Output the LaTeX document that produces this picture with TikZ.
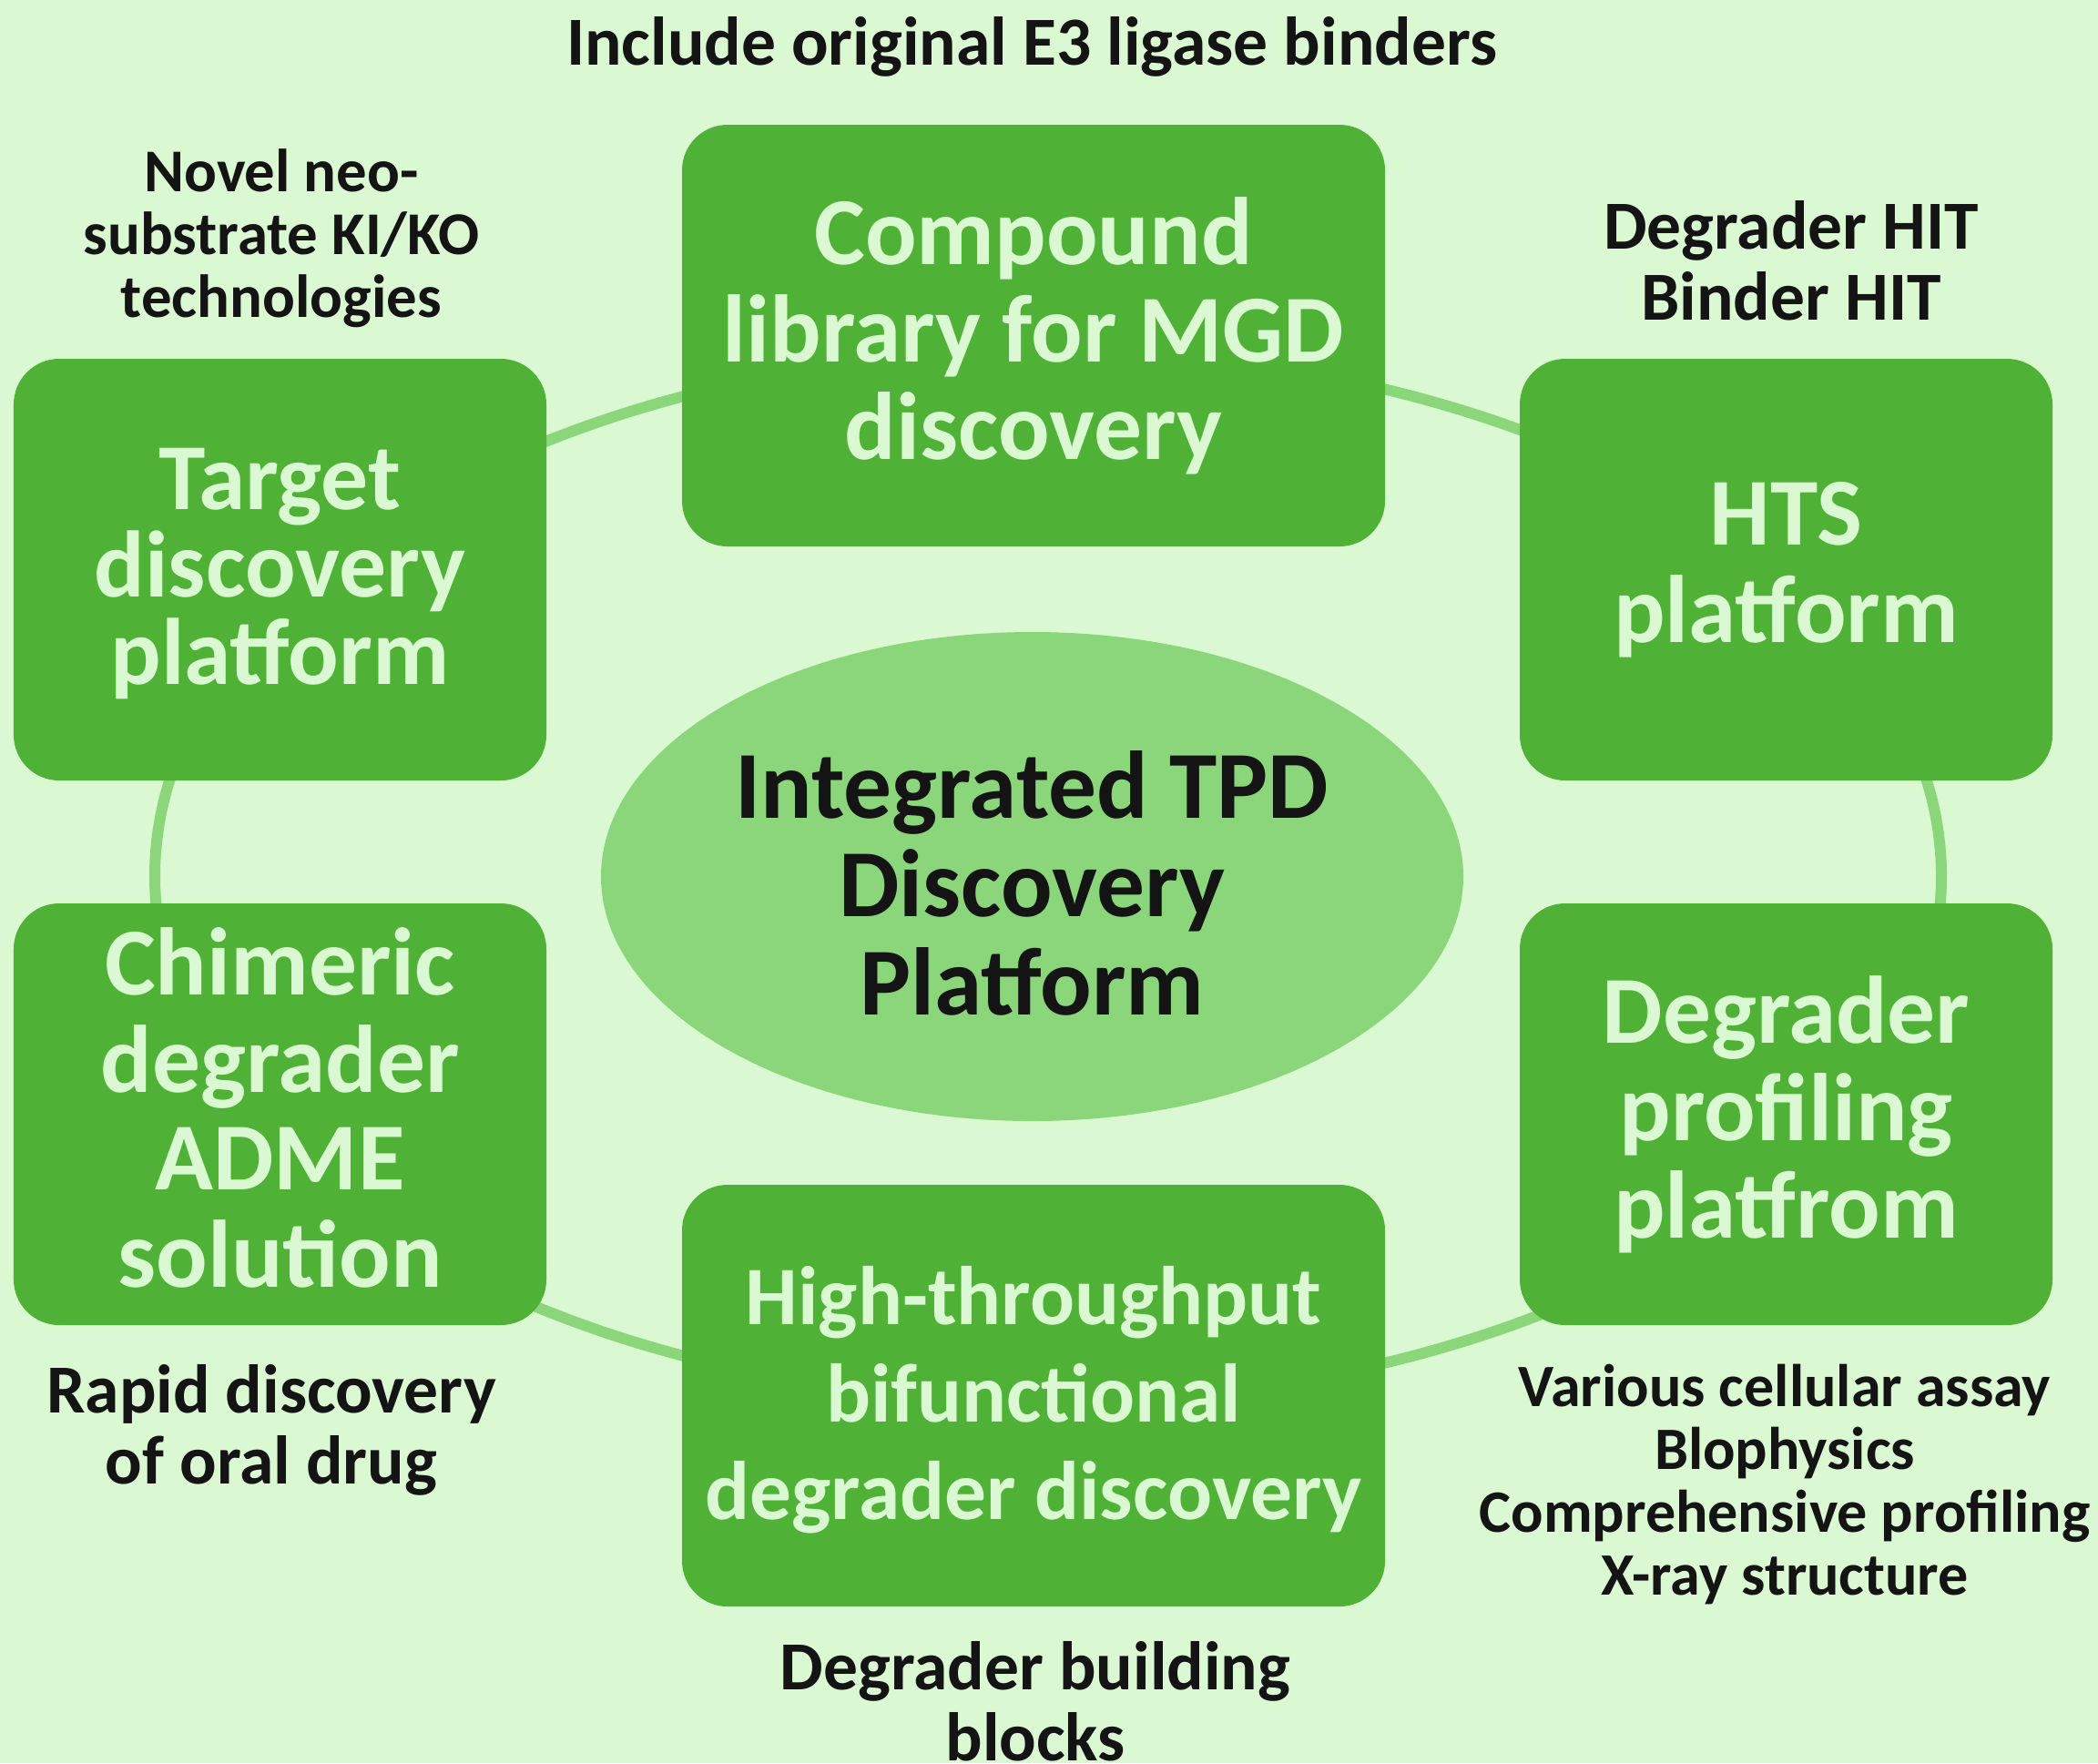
\documentclass[tikz,border=0pt]{standalone}
\usepackage{fontspec}
\setmainfont{Carlito}
\definecolor{bgc}{HTML}{DAF8D2}
\definecolor{boxc}{HTML}{4FB135}
\definecolor{ringc}{HTML}{8BD67A}
\definecolor{darkt}{HTML}{141414}
\definecolor{lightt}{HTML}{DAF8D2}
\tikzset{
  pbox/.style={fill=boxc, draw=none, rounded corners=0.5cm, align=center,
    text=lightt, font=\bfseries\fontsize{30}{30.5}\selectfont, inner sep=0pt},
  sidebox/.style={pbox, minimum width=5.85cm, minimum height=4.63cm},
  widebox/.style={pbox, minimum width=7.72cm, minimum height=4.63cm},
  lbl/.style={align=center, text=darkt, inner sep=0pt, font=\bfseries\fontsize{21.5}{22.2}\selectfont},
  lblsmall/.style={lbl, font=\bfseries\fontsize{19}{19.6}\selectfont},
  hub/.style={ellipse, fill=ringc, draw=none, minimum width=9.47cm, minimum height=5.37cm,
    align=center, text=darkt, font=\bfseries\fontsize{30}{30.8}\selectfont, inner sep=0pt},
  ring/.style={draw=ringc, line width=0.12cm}
}
\usetikzlibrary{shapes.geometric}
\begin{document}
\begin{tikzpicture}
\fill[bgc] (0,0) rectangle (23.04,-19.36);
\useasboundingbox (0,0) rectangle (23.04,-19.36);
\coordinate (rc) at (11.51,-9.62);
\draw[ring] (rc) ellipse [x radius=9.81cm, y radius=5.77cm];
\node[hub] (hubn) at (11.335,-9.625) {};
\node[align=center, text=darkt, font=\bfseries\fontsize{30}{30.8}\selectfont, inner sep=0pt] (hubt) at (11.335,-9.70) {Integrated TPD\\Discovery\\Platform};
\node[widebox] (lib) at (11.35,-3.685) {Compound\\library for MGD\\discovery};
\node[sidebox] (target) at (3.075,-6.255) {};
\node[align=center, text=lightt, inner sep=0pt, font=\bfseries\fontsize{29.5}{27.4}\selectfont] (targett) at (3.075,-6.30) {Target\\discovery\\platform};
\node[sidebox] (hts) at (19.615,-6.255) {HTS\\platform};
\node[sidebox] (adme) at (3.075,-12.235) {};
\node[align=center, text=lightt, inner sep=0pt, font=\bfseries\fontsize{30}{30.5}\selectfont] (admet) at (3.075,-12.165) {Chimeric\\degrader\\ADME\\solution};
\node[sidebox] (prof) at (19.615,-12.235) {Degrader\\profiling\\platfrom};
\node[widebox] (htbd) at (11.35,-15.325) {};
\node[align=center, text=lightt, inner sep=0pt, font=\bfseries\fontsize{26}{30.5}\selectfont] (htbdt) at (11.35,-15.37) {High-throughput\\bifunctional\\degrader discovery};
\node[lbl] (l1) at (11.33,-0.51) {Include original E3 ligase binders};
\node[lblsmall] (l2) at (3.09,-2.62) {Novel neo-\\substrate KI/KO\\technologies};
\node[lbl] (l3) at (19.67,-2.86) {Degrader HIT\\Binder HIT};
\node[lbl] (l4) at (2.98,-15.70) {Rapid discovery\\of oral drug};
\node[lbl] (l5) at (11.37,-18.68) {Degrader building\\blocks};
\node[lblsmall, font=\bfseries\fontsize{18.8}{19.6}\selectfont] (l6) at (19.60,-16.30) {Various cellular assay\\Blophysics\\Comprehensive profiling\\X-ray structure};
\end{tikzpicture}
\end{document}
